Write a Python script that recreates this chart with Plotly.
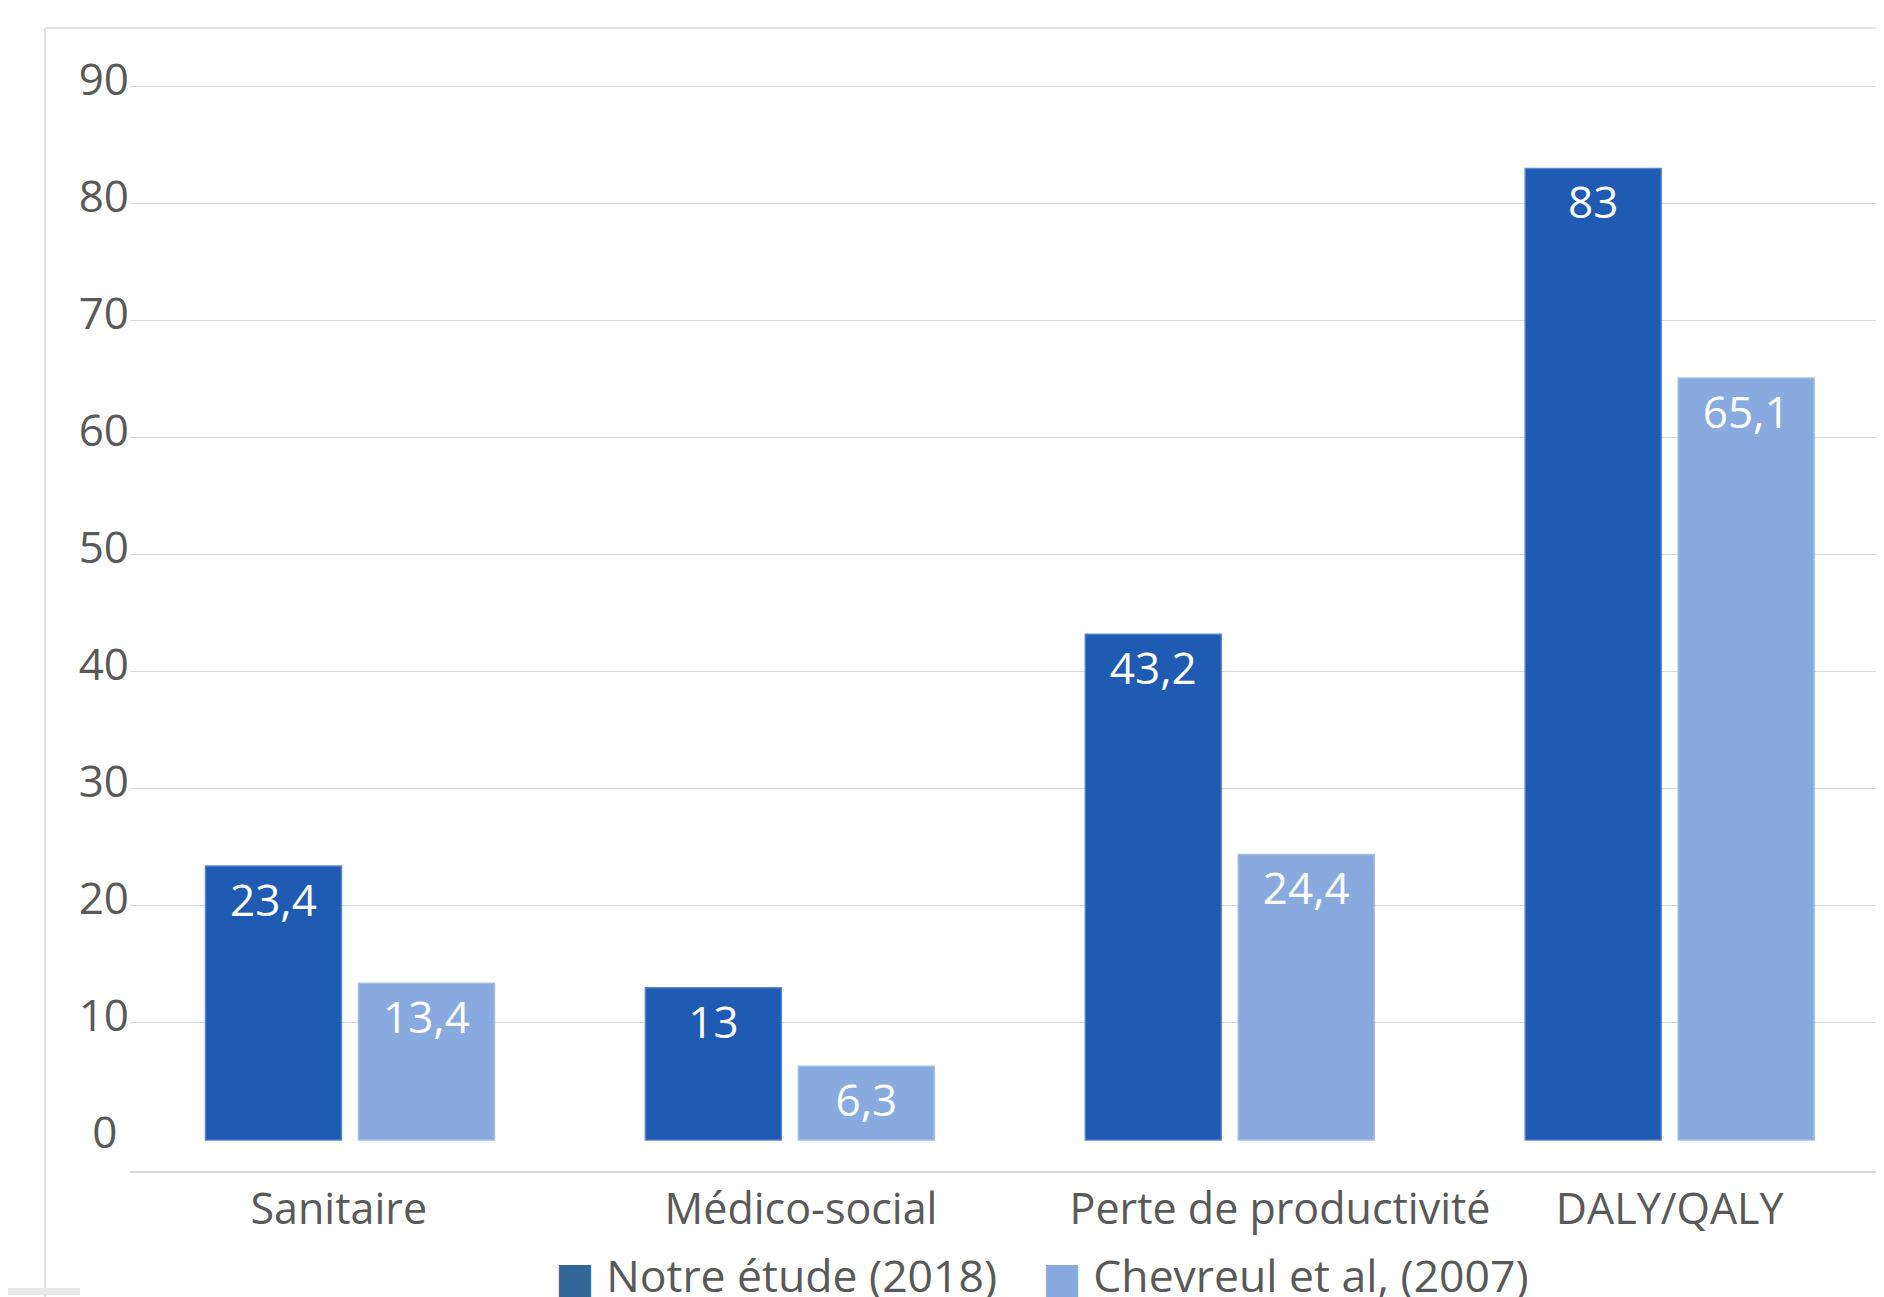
import plotly.graph_objects as go

# ---- data ----
categories = ["Sanitaire", "Médico-social", "Perte de productivité", "DALY/QALY"]
notre_etude_2018 = [23.4, 13, 43.2, 83]
chevreul_2007 = [13.4, 6.3, 24.4, 65.1]
series_names = ["Notre étude (2018)", "Chevreul et al, (2007)"]
y_ticks = [0, 10, 20, 30, 40, 50, 60, 70, 80, 90]


def fr(v):
    return f"{v:g}".replace(".", ",")


NB = "\u00a0"
x_ticktext = [categories[0] + NB * 2, NB * 2 + categories[1], NB * 9 + categories[2], categories[3]]
y_ticktext = [fr(v) + ("\u2008" if v == 0 else "") for v in y_ticks]

TXT = "#595959"
FONT = "Open Sans"
# page has an 8px body margin
W, H = 1868, 1289
L, T, B = 122, 20, 126
PW, PH = W - L, H - T - B


def px_x(px):
    return (px - L) / PW


def px_y(py):
    return (H - B - py) / PH


fig = go.Figure()

fig.add_trace(go.Bar(
    x=categories, y=notre_etude_2018, name=series_names[0], showlegend=False,
    marker=dict(color="rgba(14,78,173,0.93)", line=dict(color="rgba(80,128,205,0.9)", width=1.5)),
    text=[fr(v) for v in notre_etude_2018], textposition="inside", insidetextanchor="end",
    textfont=dict(color="white", size=44, family=FONT), hoverinfo="x+y",
))
fig.add_trace(go.Bar(
    x=categories, y=chevreul_2007, name=series_names[1], showlegend=False,
    marker=dict(color="rgba(127,164,220,0.93)", line=dict(color="rgba(160,190,232,0.9)", width=1.5)),
    text=[fr(v) for v in chevreul_2007], textposition="inside", insidetextanchor="end",
    textfont=dict(color="white", size=44, family=FONT), hoverinfo="x+y",
))

# legend entries (large square swatches)
legend_colors = ["#336699", "#88AADE"]
for name, col in zip(series_names, legend_colors):
    fig.add_trace(go.Scatter(
        x=[None], y=[None], mode="markers",
        marker=dict(color="rgba(0,0,0,0)", size=1),
        name=f'<span style="color:{col};font-family:DejaVu Sans;font-size:42px">■</span> {name}',
        hoverinfo="skip",
    ))

# invisible trace to carry the gridline axis
fig.add_trace(go.Scatter(x=[None], y=[None], yaxis="y2", showlegend=False, hoverinfo="skip"))

fig.update_layout(
    width=W, height=H,
    margin=dict(l=L, r=0, t=T, b=B, pad=0, autoexpand=False),
    paper_bgcolor="white", plot_bgcolor="white",
    separators=", ",
    barmode="group", bargap=0.3045, bargroupgap=0.111,
    font=dict(family=FONT, color=TXT, size=43),
    xaxis=dict(
        type="category", categoryorder="array", categoryarray=categories,
        tickvals=categories, ticktext=x_ticktext,
        range=[-0.5, 3.469], showgrid=False, zeroline=False,
        showline=True, linecolor="#d9d9d9", linewidth=1.5,
        ticks="", tickfont=dict(size=43, color=TXT, family=FONT),
    ),
    yaxis=dict(
        range=[-2.65, 95], tickvals=y_ticks, ticktext=y_ticktext,
        showgrid=False, zeroline=False, showline=False, ticks="",
        tickfont=dict(size=44, color=TXT, family=FONT),
        ticklabelshift=-7, ticklabelstandoff=0,
    ),
    yaxis2=dict(
        overlaying="y", range=[-2.65, 95], tickvals=y_ticks[1:],
        showgrid=True, gridcolor="#d9d9d9", gridwidth=1,
        showticklabels=False, zeroline=False, showline=False, ticks="",
    ),
    legend=dict(
        orientation="h", x=px_x(507), xanchor="left", y=px_y(1267), yanchor="middle",
        font=dict(size=44.5, color=TXT, family=FONT), bgcolor="rgba(0,0,0,0)",
    ),
    shapes=[
        dict(type="line", xref="paper", yref="paper", x0=px_x(37), x1=px_x(37), y0=px_y(20), y1=px_y(1300),
             line=dict(color="#d9d9d9", width=1.5)),
        dict(type="line", xref="paper", yref="paper", x0=px_x(37), x1=1.0, y0=px_y(20), y1=px_y(20),
             line=dict(color="#e3e3e3", width=2)),
        dict(type="rect", xref="paper", yref="paper", x0=px_x(0), x1=px_x(72), y0=px_y(1280), y1=px_y(1287),
             fillcolor="#e8e8e8", line=dict(width=0)),
    ],
)

fig.write_html("out.html")
